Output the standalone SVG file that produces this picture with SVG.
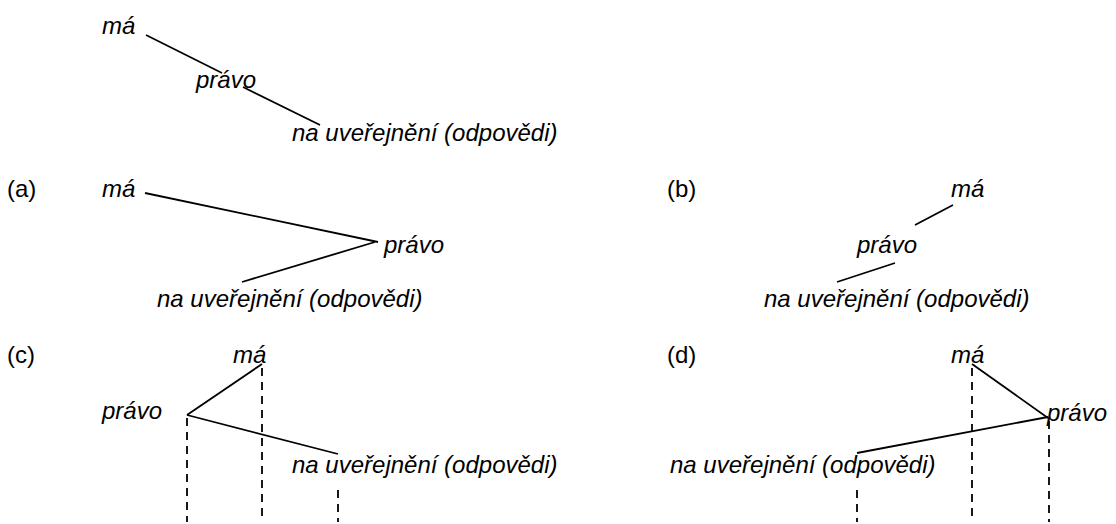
<svg xmlns="http://www.w3.org/2000/svg" width="1116" height="524" viewBox="0 0 1116 524">
  <style>
    text { font-family: "Liberation Sans", Arial, sans-serif; font-size: 24px; fill: #000; }
    .w { font-style: italic; }
    .edge { stroke: #000; stroke-width: 1.8; fill: none; stroke-linecap: butt; }
    .proj { stroke: #000; stroke-width: 1.8; fill: none; stroke-dasharray: 8 6; }
  </style>
  <rect width="1116" height="524" fill="#fff"/>

  <!-- panel labels -->
  <g id="labels">
    <text x="7" y="197">(a)</text>
    <text x="667" y="197">(b)</text>
    <text x="7" y="363">(c)</text>
    <text x="667" y="363">(d)</text>
  </g>

  <!-- top: diagonal tree -->
  <g id="top-ma"><text class="w" x="102" y="34">má</text></g>
  <g id="top-pravo"><text class="w" x="196" y="88">právo</text></g>
  <g id="top-na"><text class="w" x="292" y="141">na uveřejnění (odpovědi)</text></g>

  <!-- (a) -->
  <g id="a-ma"><text class="w" x="102" y="197">má</text></g>
  <g id="a-pravo"><text class="w" x="384" y="253">právo</text></g>
  <g id="a-na"><text class="w" x="157" y="307">na uveřejnění (odpovědi)</text></g>

  <!-- (b) -->
  <g id="b-ma"><text class="w" x="951" y="197">má</text></g>
  <g id="b-pravo"><text class="w" x="857" y="253">právo</text></g>
  <g id="b-na"><text class="w" x="764" y="307">na uveřejnění (odpovědi)</text></g>

  <!-- (c) -->
  <g id="c-ma"><text class="w" x="233" y="363">má</text></g>
  <g id="c-pravo"><text class="w" x="102" y="419">právo</text></g>
  <g id="c-na"><text class="w" x="292" y="473">na uveřejnění (odpovědi)</text></g>

  <!-- (d) -->
  <g id="d-ma"><text class="w" x="951" y="363">má</text></g>
  <g id="d-pravo"><text class="w" x="1047" y="421">právo</text></g>
  <g id="d-na"><text class="w" x="670" y="473">na uveřejnění (odpovědi)</text></g>

  <g id="connectors">
    <!-- top -->
    <line class="edge" x1="146" y1="35" x2="222" y2="73"/>
    <line class="edge" x1="243" y1="87" x2="320" y2="125"/>
    <!-- (a) -->
    <line class="edge" x1="145" y1="193" x2="378" y2="242"/>
    <line class="edge" x1="242" y1="282" x2="375" y2="242"/>
    <!-- (b) -->
    <line class="edge" x1="953" y1="205" x2="915" y2="225"/>
    <line class="edge" x1="895" y1="263" x2="837" y2="282"/>
    <!-- (c) -->
    <line class="edge" x1="262" y1="364" x2="187" y2="415"/>
    <line class="edge" x1="187" y1="415" x2="338" y2="454"/>
    <line class="proj" x1="187" y1="418" x2="187" y2="522"/>
    <line class="proj" x1="262" y1="368" x2="262" y2="516"/>
    <line class="proj" x1="338" y1="490" x2="338" y2="522"/>
    <!-- (d) -->
    <line class="edge" x1="972" y1="364" x2="1048" y2="418"/>
    <line class="edge" x1="1048" y1="417" x2="857" y2="453"/>
    <line class="proj" x1="972" y1="368" x2="972" y2="522"/>
    <line class="proj" x1="1049" y1="421" x2="1049" y2="522"/>
    <line class="proj" x1="857" y1="490" x2="857" y2="522"/>
  </g>
</svg>
